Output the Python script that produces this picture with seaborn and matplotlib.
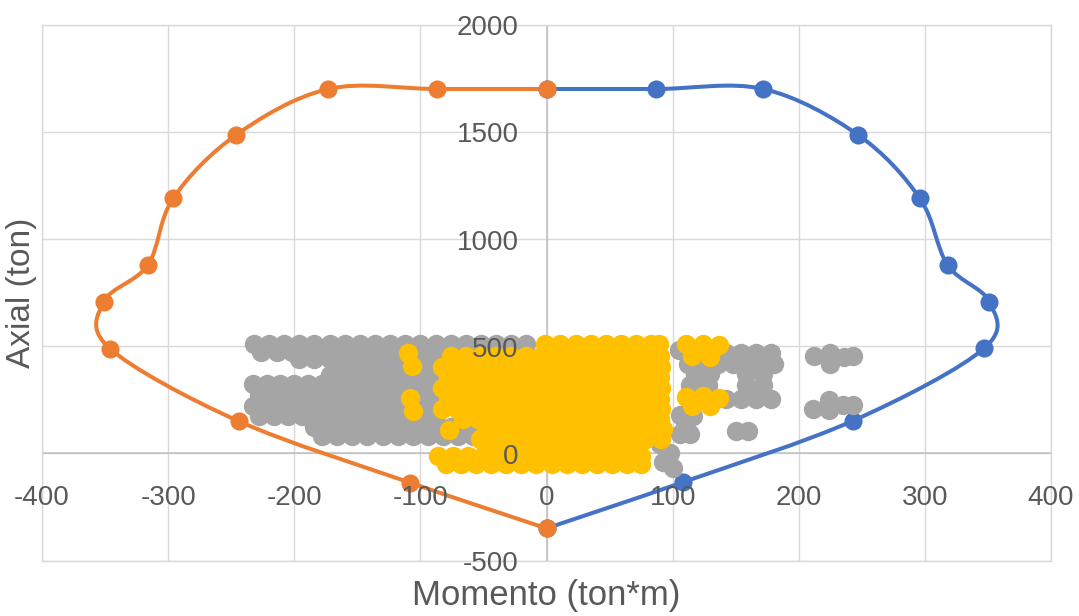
import matplotlib
matplotlib.use("Agg")
import numpy as np
import pandas as pd
import matplotlib.pyplot as plt
import seaborn as sns
from matplotlib.path import Path
from matplotlib.patches import PathPatch
from matplotlib import font_manager
from matplotlib.transforms import offset_copy

# ---- interaction curve (momento, axial) ----
pos_M = [0, 87, 172, 247, 296, 318, 351, 347, 243, 108, 0]
pos_P = [1700, 1700, 1700, 1486, 1190, 879, 708, 490, 152, -135, -350]
neg_M = [0, -87, -173, -246, -296, -316, -351, -346, -244, -108, 0]
neg_P = [1700, 1700, 1700, 1486, 1190, 879, 708, 488, 150, -137, -350]

# ---- demand points, gray set ----
gray_levels = [508, 475, 440, 405, 365, 323, 272, 222, 172, 125, 80]
gray_rows = [
    [-232, -220, -208, -196, -184, -172, -160, -148, -136, -124, -112, -100, -88, -76, -64, -52, -40, -28, -16],
    [-226, -214, -202, -190, -178, -166, -154, -142, -130, -118, -106, -94, -82],
    [-196, -184, -172, -160, -148, -136, -124, -112, -100, -88],
    [-166, -154, -142, -130, -118, -106, -94, -82],
    [-172, -160, -148, -136, -124, -112, -100, -88],
    [-233, -222, -211, -200, -189, -178, -166, -154, -142, -130, -118, -106, -94],
    [-228, -216, -205, -194, -183, -172, -160, -148, -136, -124, -112, -100, -88],
    [-233, -222, -211, -200, -189, -178, -166, -154, -142, -130, -118, -106, -94],
    [-228, -216, -205, -194, -183, -172, -160, -148, -136, -124, -112, -100, -88],
    [-184, -172, -160, -148, -136, -124, -112, -100, -88, -76, -64, -52],
    [-178, -166, -154, -142, -130, -118, -106, -94, -82, -70, -58],
]
gray_right_M = [105, 118, 130, 142, 154, 166, 178, 118, 130, 142, 154, 166, 176,
                112, 124, 136, 148, 160, 172, 180,
                118, 130, 158, 172, 114, 128, 160, 170, 114, 128, 158, 172,
                118, 130, 142, 154, 166, 178,
                106, 116, 110, 106, 114, 90, 98, 92, 100, 150, 160,
                212, 225, 225, 236, 243, 211, 224, 224, 235, 243]
gray_right_P = [483, 466, 466, 466, 466, 466, 466, 442, 442, 442, 442, 442, 442,
                418, 418, 418, 418, 418, 418, 418,
                370, 370, 370, 370, 320, 320, 290, 290, 290, 290, 320, 320,
                255, 255, 255, 255, 255, 255,
                180, 175, 130, 90, 88, 45, 0, -40, -70, 104, 104,
                455, 467, 416, 450, 455, 207, 249, 202, 225, 225]

# ---- demand points, yellow set ----
yellow_levels = [512, 456, 405, 355, 305, 255, 205, 160, 112, 65, 25, -12, -52]
yellow_rows = [
    [-1, 11, 23, 35, 47, 59, 71, 83, 89],
    [-76, -64, -52, -40, -28, -16, -4, 8, 20, 32, 44, 56, 68, 80, 90],
    [-83, -71, -59, -47, -35, -23, -11, 1, 13, 25, 37, 49, 61, 73, 85, 91],
    [-78, -66, -54, -42, -30, -18, -6, 6, 18, 30, 42, 54, 66, 78, 90],
    [-83, -71, -59, -47, -35, -23, -11, 1, 13, 25, 37, 49, 61, 73, 85, 91],
    [-78, -66, -54, -42, -30, -18, -6, 6, 18, 30, 42, 54, 66, 78, 90],
    [-83, -71, -59, -47, -35, -23, -11, 1, 13, 25, 37, 49, 61, 73, 85, 91],
    [-66, -54, -42, -30, -18, -6, 6, 18, 30, 42, 54, 66, 78, 90],
    [-48, -36, -24, -12, 0, 12, 24, 36, 48, 60, 72, 84, 92],
    [-53, -41, -29, -17, -5, 7, 19, 31, 43, 55, 67, 79, 91],
    [-48, -36, -24, -12, 0, 12, 24, 36, 48, 60, 72],
    [-86, -74, -62, -50, -38, -26, -14, -2, 10, 22, 34, 46, 58, 70, 75],
    [-80, -68, -56, -44, -32, -20, -8, 4, 16, 28, 40, 52, 64, 75],
]
yellow_blob_M = [-110, -107, -108, -106, -77,
                 111, 124, 137, 118, 131, 115, 130,
                 111, 124, 137, 118, 131, 115, 130]
yellow_blob_P = [468, 407, 259, 198, 109,
                 510, 512, 505, 482, 480, 455, 450,
                 262, 266, 258, 242, 240, 222, 220]

x_ticks = [-400, -300, -200, -100, 0, 100, 200, 300, 400]
y_ticks = [-500, 0, 500, 1000, 1500, 2000]

BLUE, ORANGE, GRAY, YELLOW = "#4472C4", "#ED7D31", "#A5A5A5", "#FFC000"
TXT = "#595959"

sns.set_theme(style="white")
names = {f.name for f in font_manager.fontManager.ttflist}
narrow = "Liberation Sans Narrow" in names
tick_font = "Liberation Sans Narrow" if narrow else "Liberation Sans"
tick_size = 21.6 if narrow else 20
plt.rcParams["font.family"] = ["Liberation Sans", "DejaVu Sans"]


def rows_to_df(levels, rows):
    return pd.concat([pd.DataFrame({"M": xs, "P": lvl}) for lvl, xs in zip(levels, rows)],
                     ignore_index=True)


gray_df = pd.concat([rows_to_df(gray_levels, gray_rows),
                     pd.DataFrame({"M": gray_right_M, "P": gray_right_P})], ignore_index=True)
yellow_df = pd.concat([rows_to_df(yellow_levels, yellow_rows),
                       pd.DataFrame({"M": yellow_blob_M, "P": yellow_blob_P})], ignore_index=True)


def smooth_path(xs, ys):
    # excel-like smoothed line: catmull-rom segments as cubic beziers
    pts = np.column_stack([xs, ys]).astype(float)
    n = len(pts)
    verts, codes = [pts[0]], [Path.MOVETO]
    for i in range(n - 1):
        p0, p1 = pts[max(i - 1, 0)], pts[i]
        p2, p3 = pts[i + 1], pts[min(i + 2, n - 1)]
        verts += [p1 + (p2 - p0) / 6, p2 - (p3 - p1) / 6, p2]
        codes += [Path.CURVE4] * 3
    return Path(verts, codes)


fig = plt.figure(figsize=(10.79, 6.16), dpi=100)
ax = fig.add_axes([42 / 1079, 1 - 560.5 / 616, (1051 - 42) / 1079, (560.5 - 24.7) / 616])
ax.set_xlim(-400, 400)
ax.set_ylim(-500, 2000)
ax.set_xticks(x_ticks)
ax.set_yticks(y_ticks)
ax.grid(True, color="#D9D9D9", linewidth=1.0)
ax.set_axisbelow(True)
ax.tick_params(length=0, labelbottom=False, labelleft=False)
for sp in ax.spines.values():
    sp.set_color("#D9D9D9")
    sp.set_linewidth(1.0)
ax.axhline(0, color="#BFBFBF", linewidth=1.1, zorder=0.9)
ax.axvline(0, color="#BFBFBF", linewidth=1.1, zorder=0.9)

# curves: blue first so orange end markers sit on top
for M, P, col in [(pos_M, pos_P, BLUE), (neg_M, neg_P, ORANGE)]:
    ax.add_patch(PathPatch(smooth_path(M, P), fill=False, edgecolor=col, linewidth=2.9,
                           capstyle="round", joinstyle="round", zorder=2))
    sns.scatterplot(x=M, y=P, color=col, s=170, linewidth=0, marker="o", legend=False,
                    ax=ax, zorder=2.1)

sns.scatterplot(data=gray_df, x="M", y="P", color=GRAY, s=195, linewidth=0, marker="o",
                legend=False, ax=ax, zorder=3)
sns.scatterplot(data=yellow_df, x="M", y="P", color=YELLOW, s=195, linewidth=0, marker="o",
                legend=False, ax=ax, zorder=4)
ax.set_xlabel("")
ax.set_ylabel("")

# tick labels next to the axes (drawn above the data like excel does)
tx = offset_copy(ax.transData, fig=fig, x=0, y=-51.5, units="dots")
for v in x_ticks:
    ax.text(v, 0, f"{v}", transform=tx, ha="center", va="baseline", fontsize=tick_size,
            family=tick_font, color=TXT, zorder=6)
ty = offset_copy(ax.transData, fig=fig, x=-28, y=-10.5, units="dots")
for v in y_ticks:
    ax.text(0, v, f"{v}", transform=ty, ha="right", va="baseline", fontsize=tick_size,
            family=tick_font, color=TXT, zorder=6)

fig.text(546.5 / 1079, 1 - 605 / 616, "Momento (ton*m)", ha="center", va="baseline",
         fontsize=25, color=TXT)
fig.text(21.5 / 1079, 1 - 292.6 / 616, "Axial (ton)", rotation=90, ha="center", va="center",
         fontsize=24, color=TXT)

fig.savefig("out.png", dpi=100)
